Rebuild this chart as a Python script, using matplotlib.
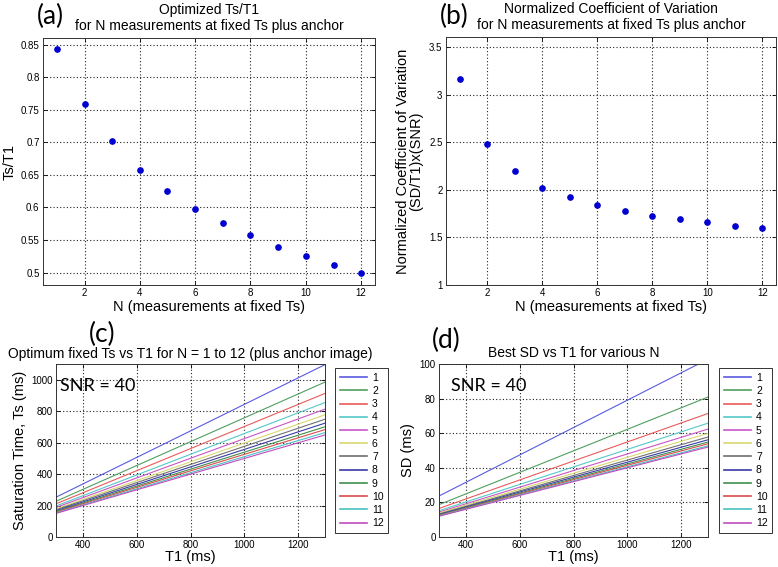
import matplotlib
matplotlib.use("Agg")
import matplotlib.pyplot as plt
from matplotlib.ticker import FuncFormatter

plt.rcParams['font.family'] = ['Liberation Sans', 'DejaVu Sans']

# ---- data ----
n_meas = [1, 2, 3, 4, 5, 6, 7, 8, 9, 10, 11, 12]
ts_over_t1 = [0.843, 0.758, 0.702, 0.658, 0.625, 0.598, 0.576, 0.557, 0.539, 0.525, 0.511, 0.499]
norm_cov = [3.164, 2.488, 2.197, 2.026, 1.921, 1.843, 1.777, 1.728, 1.690, 1.658, 1.623, 1.600]

t1_range = [300, 1300]
ts_start = [253, 227, 211, 197, 188, 179, 173, 167, 162, 158, 153, 150]
ts_end = [1096, 985, 913, 855, 813, 777, 749, 724, 701, 683, 664, 649]
sd_start = [23.7, 18.7, 16.5, 15.2, 14.4, 13.8, 13.3, 13.0, 12.7, 12.4, 12.2, 12.0]
sd_end = [102.8, 80.9, 71.4, 65.8, 62.4, 59.9, 57.8, 56.2, 54.9, 53.9, 52.7, 52.0]
legend_labels = [str(n) for n in n_meas]

line_colors = ['#5a5ae0', '#4f9f5f', '#ea5a5a', '#55c8c8', '#c855c8', '#d8d870',
               '#707070', '#3a3aa8', '#3f8f4f', '#dd4c4c', '#4cc0c0', '#c04cc0']

W, H = 778, 567
fig = plt.figure(figsize=(W / 100, H / 100), dpi=100)

def rect(x0, y0, x1, y1):
    return [x0 / W, 1 - y1 / H, (x1 - x0) / W, (y1 - y0) / H]

fmt = FuncFormatter(lambda v, p: '%g' % round(v, 4))

def style(ax):
    ax.grid(True, color='#222222', linestyle=(0, (1, 2)), linewidth=0.8)
    ax.tick_params(direction='in', top=True, right=True, length=3, labelsize=7, width=0.6, pad=2.5)
    for s in ax.spines.values():
        s.set_linewidth(0.7)
        s.set_color('#333333')
    ax.yaxis.set_major_formatter(fmt)
    ax.xaxis.set_major_formatter(fmt)

def add_legend(ax, x_px, y_px):
    leg = ax.legend(loc='upper left', bbox_to_anchor=(x_px / W, 1 - y_px / H), bbox_transform=fig.transFigure,
                    fontsize=7.5, handlelength=2.6, labelspacing=0.31, borderpad=0.45, handletextpad=0.5,
                    borderaxespad=0, fancybox=False, edgecolor='#333333', framealpha=1)
    leg.get_frame().set_linewidth(0.7)
    for ln in leg.get_lines():
        ln.set_linewidth(1.2)
    return leg

label_fs = 10.5

# (a)
axa = fig.add_axes(rect(43, 38, 375, 285))
axa.plot(n_meas, ts_over_t1, 'o', color='#0000d0', markersize=3.8)
axa.set_xlim(0.5, 12.5)
axa.set_ylim(0.481, 0.86)
axa.set_xticks(range(2, 13, 2))
axa.set_yticks([0.5, 0.55, 0.6, 0.65, 0.7, 0.75, 0.8, 0.85])
style(axa)
axa.set_title('Optimized Ts/T1\nfor N measurements at fixed Ts plus anchor', fontsize=10, linespacing=1.15, pad=6)
axa.set_xlabel('N (measurements at fixed Ts)', fontsize=label_fs, labelpad=1)
axa.set_ylabel('Ts/T1', fontsize=label_fs, labelpad=3)

# (b)
axb = fig.add_axes(rect(446, 37, 776, 285))
axb.plot(n_meas, norm_cov, 'o', color='#0000d0', markersize=3.8)
axb.set_xlim(0.5, 12.5)
axb.set_ylim(1, 3.61)
axb.set_xticks(range(2, 13, 2))
axb.set_yticks([1, 1.5, 2, 2.5, 3, 3.5])
style(axb)
axb.set_title('Normalized Coefficient of Variation\nfor N measurements at fixed Ts plus anchor', fontsize=10, linespacing=1.15, pad=6)
axb.set_xlabel('N (measurements at fixed Ts)', fontsize=label_fs, labelpad=1)
axb.set_ylabel('Normalized Coefficient of Variation\n(SD/T1)x(SNR)', fontsize=label_fs, labelpad=4, linespacing=1.0)

# (c)
axc = fig.add_axes(rect(56, 364, 325, 537))
for i in range(len(n_meas)):
    axc.plot(t1_range, [ts_start[i], ts_end[i]], color=line_colors[i], linewidth=0.8,
             label=legend_labels[i])
axc.set_xlim(300, 1300)
axc.set_ylim(0, 1100)
axc.set_xticks([400, 600, 800, 1000, 1200])
axc.set_yticks([0, 200, 400, 600, 800, 1000])
style(axc)
axc.set_title('Optimum fixed Ts vs T1 for N = 1 to 12 (plus anchor image)', fontsize=10, pad=4)
axc.set_xlabel('T1 (ms)', fontsize=label_fs, labelpad=0)
axc.set_ylabel('Saturation Time, Ts (ms)', fontsize=label_fs, labelpad=3)
axc.text(0.015, 0.875, 'SNR = 40', transform=axc.transAxes, fontsize=13, va='center',
         family=['Lato', 'DejaVu Sans'])
add_legend(axc, 335, 368)

# (d)
axd = fig.add_axes(rect(439, 364, 708, 537))
for i in range(len(n_meas)):
    axd.plot(t1_range, [sd_start[i], sd_end[i]], color=line_colors[i], linewidth=0.8,
             label=legend_labels[i])
axd.set_xlim(300, 1300)
axd.set_ylim(0, 100)
axd.set_xticks([400, 600, 800, 1000, 1200])
axd.set_yticks([0, 20, 40, 60, 80, 100])
style(axd)
axd.set_title('Best SD vs T1 for various N', fontsize=10, pad=5)
axd.set_xlabel('T1 (ms)', fontsize=label_fs, labelpad=0)
axd.set_ylabel('SD (ms)', fontsize=label_fs, labelpad=3)
axd.text(0.045, 0.875, 'SNR = 40', transform=axd.transAxes, fontsize=13, va='center',
         family=['Lato', 'DejaVu Sans'])
add_legend(axd, 719, 368)

# panel letters
lab_font = ['Lato', 'DejaVu Sans']
fig.text(37 / W, 1 - 16 / H, '(a)', fontsize=19, family=lab_font, va='center', ha='left')
fig.text(440 / W, 1 - 16 / H, '(b)', fontsize=19, family=lab_font, va='center', ha='left')
fig.text(89 / W, 1 - 334 / H, '(c)', fontsize=19, family=lab_font, va='center', ha='left')
fig.text(432 / W, 1 - 340 / H, '(d)', fontsize=19, family=lab_font, va='center', ha='left')

fig.savefig('out.png', dpi=100)
